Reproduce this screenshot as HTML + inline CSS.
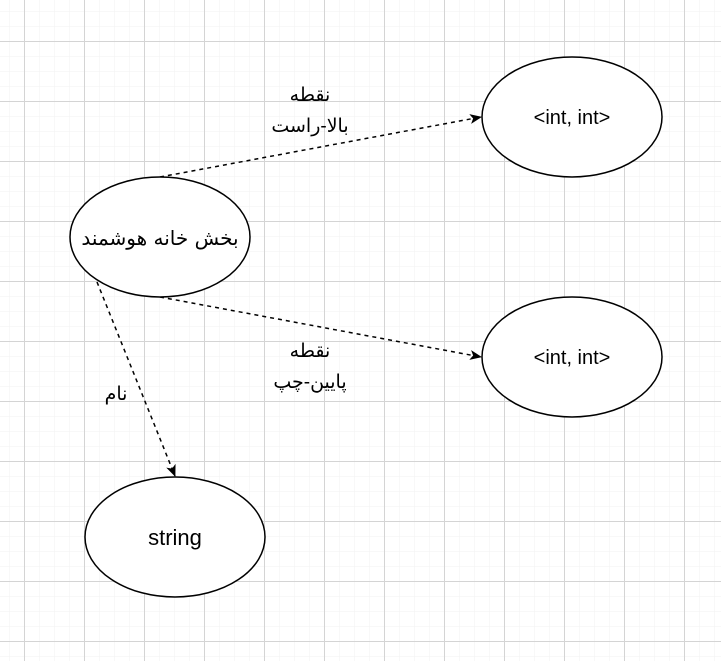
<!DOCTYPE html>
<html><head><meta charset="utf-8"><style>
html,body{margin:0;padding:0;background:#fff;}
svg{display:block;}
text{font-family:"Liberation Sans","DejaVu Sans",sans-serif;}
</style></head><body>
<svg width="721" height="661" xmlns="http://www.w3.org/2000/svg">
<defs>
<pattern id="minor" x="9" y="11" width="15" height="15" patternUnits="userSpaceOnUse">
<path d="M0 0H15M0 0V15" stroke="#f2f2f2" stroke-width="1" fill="none"/>
</pattern>
<pattern id="major" x="24" y="41" width="60" height="60" patternUnits="userSpaceOnUse">
<path d="M0 0.5H60M0.5 0V60" stroke="#d4d4d4" stroke-width="1" fill="none"/>
</pattern>
<marker id="ar" markerWidth="12" markerHeight="12" refX="11" refY="6" orient="auto" markerUnits="userSpaceOnUse">
<path d="M0 1L12 6L0 11L3 6Z" fill="#000"/>
</marker>
</defs>
<rect width="721" height="661" fill="url(#minor)"/>
<rect width="721" height="661" fill="url(#major)"/>
<g stroke="#000" stroke-width="1.5" fill="none" stroke-dasharray="4,4">
<line x1="160" y1="177" x2="481" y2="117" marker-end="url(#ar)"/>
<line x1="160" y1="297" x2="481" y2="357" marker-end="url(#ar)"/>
<line x1="97" y1="282" x2="175" y2="476" marker-end="url(#ar)"/>
</g>
<g stroke="#000" stroke-width="1.5" fill="#fff">
<ellipse cx="160" cy="237" rx="90" ry="60"/>
<ellipse cx="572" cy="117" rx="90" ry="60"/>
<ellipse cx="572" cy="357" rx="90" ry="60"/>
<ellipse cx="175" cy="537" rx="90" ry="60"/>
</g>
<g font-size="20" text-anchor="middle" fill="#000">
<text x="160" y="245" direction="rtl" style="font-family:'DejaVu Sans',sans-serif" font-size="20">بخش خانه هوشمند</text>
<text x="572" y="124">&lt;int, int&gt;</text>
<text x="572" y="364">&lt;int, int&gt;</text>
<text x="175" y="545" font-size="22">string</text>
</g>
<g font-size="19" text-anchor="middle" fill="#000" style="font-family:'DejaVu Sans',sans-serif">
<text x="310" y="101" direction="rtl">نقطه</text>
<text x="310" y="132" direction="rtl">بالا-راست</text>
<text x="310" y="357" direction="rtl">نقطه</text>
<text x="310" y="388" direction="rtl">پایین-چپ</text>
<text x="116" y="400" direction="rtl">نام</text>
</g>
</svg>
</body></html>
